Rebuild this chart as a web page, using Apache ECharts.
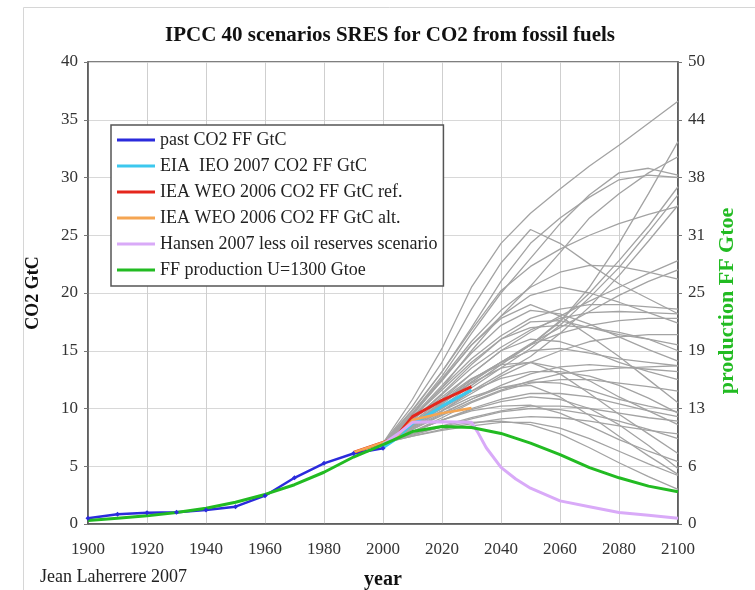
<!DOCTYPE html>
<html>
<head>
<meta charset="utf-8">
<script src="https://cdn.jsdelivr.net/npm/echarts@6/dist/echarts.min.js"></script>
<style>
  html, body { margin: 0; padding: 0; background: #fff; }
  #main { width: 755px; height: 590px; }
</style>
</head>
<body>
<div id="main"></div>
<script>
// years of the SRES scenario points
const sresYears = [2000, 2010, 2020, 2030, 2040, 2050, 2060, 2070, 2080, 2090, 2100];
// 40 SRES scenarios, CO2 from fossil fuels, GtC
const sresScenarios = [
  [7.0, 10.8, 15.2, 20.5, 24.3, 26.9, 29.0, 31.0, 32.8, 34.7, 36.6],
  [7.0, 10.2, 14.0, 18.6, 22.6, 25.5, 24.3, 22.5, 20.8, 19.5, 18.2],
  [7.0, 9.6, 12.8, 16.5, 20.0, 23.0, 26.0, 28.5, 30.4, 30.8, 30.2],
  [7.0, 9.8, 13.2, 17.0, 21.0, 24.3, 26.5, 28.3, 29.8, 30.2, 30.0],
  [7.0, 9.2, 11.8, 15.0, 18.0, 20.6, 23.5, 26.5, 28.6, 30.4, 31.8],
  [7.0, 8.6, 10.5, 12.5, 14.0, 15.5, 17.5, 20.5, 24.3, 28.6, 33.1],
  [7.0, 8.6, 10.2, 12.0, 13.8, 15.5, 17.6, 20.0, 22.8, 25.8, 29.2],
  [7.0, 8.5, 10.0, 11.8, 13.5, 15.2, 17.2, 19.6, 22.2, 25.3, 28.5],
  [7.0, 8.4, 9.8, 11.5, 13.0, 14.5, 16.5, 18.8, 21.5, 24.5, 27.6],
  [7.0, 9.9, 13.2, 16.8, 20.2, 22.3, 23.8, 25.0, 26.0, 26.8, 27.5],
  [7.0, 8.8, 10.8, 13.0, 15.0, 16.6, 18.0, 19.3, 20.5, 21.7, 22.8],
  [7.0, 9.2, 11.8, 14.3, 16.3, 17.8, 18.6, 19.0, 19.0, 18.8, 18.6],
  [7.0, 9.0, 11.2, 13.5, 15.3, 16.8, 17.8, 18.3, 18.4, 18.3, 18.2],
  [7.0, 8.6, 10.4, 12.3, 14.0, 15.5, 16.5, 17.2, 17.6, 17.8, 17.8],
  [7.0, 9.5, 12.4, 15.5, 18.0, 19.8, 20.5, 20.0, 19.2, 18.3, 17.4],
  [7.0, 8.4, 9.8, 11.3, 12.8, 14.0, 15.0, 15.8, 16.2, 16.4, 16.4],
  [7.0, 9.3, 12.0, 14.8, 17.2, 18.5, 18.2, 17.3, 16.2, 15.1, 14.1],
  [7.0, 8.7, 10.6, 12.5, 14.0, 15.0, 15.2, 14.8, 14.3, 14.0, 13.7],
  [7.0, 8.2, 9.5, 10.8, 12.0, 13.0, 13.6, 13.8, 13.6, 13.4, 13.2],
  [7.0, 9.0, 11.0, 13.0, 15.0, 16.0, 15.8, 15.0, 14.0, 13.2, 12.5],
  [7.0, 8.0, 9.2, 10.5, 11.5, 12.2, 12.5, 12.5, 12.2, 11.9, 11.5],
  [7.0, 9.4, 12.5, 15.5, 17.8, 19.0, 18.0, 16.3, 14.5, 12.5, 10.5],
  [7.0, 8.3, 9.6, 10.8, 11.8, 12.3, 12.2, 11.6, 10.8, 10.2, 9.7],
  [7.0, 8.0, 9.0, 10.0, 10.8, 11.3, 11.3, 11.0, 10.4, 9.8, 9.3],
  [7.0, 7.8, 8.5, 9.2, 9.8, 10.2, 10.2, 10.0, 9.6, 9.2, 8.9],
  [7.0, 8.6, 10.4, 12.2, 13.5, 14.0, 13.5, 12.4, 11.0, 9.8, 8.6],
  [7.0, 7.6, 8.2, 8.7, 9.1, 9.3, 9.2, 8.9, 8.5, 8.1, 7.8],
  [7.0, 8.8, 10.8, 12.6, 13.8, 14.0, 13.0, 11.3, 9.5, 7.8, 6.1],
  [7.0, 8.0, 9.0, 9.8, 10.2, 10.3, 9.6, 8.5, 7.3, 6.3, 5.4],
  [7.0, 8.4, 9.8, 11.0, 11.8, 12.0, 11.0, 9.4, 7.6, 5.9, 4.3],
  [7.0, 7.6, 8.1, 8.5, 8.8, 8.8, 8.3, 7.4, 6.3, 5.2, 4.2],
  [7.0, 7.8, 8.4, 8.8, 8.9, 8.6, 7.8, 6.6, 5.3, 4.1, 3.0],
  [7.0, 9.0, 11.3, 13.8, 16.0, 17.5, 17.6, 17.0, 16.4, 16.0, 15.5],
  [7.0, 8.2, 9.4, 10.6, 11.6, 12.4, 13.0, 13.3, 13.5, 13.6, 13.7],
  [7.0, 8.5, 10.0, 11.5, 12.6, 13.2, 13.2, 12.8, 12.0, 10.9, 9.6],
  [7.0, 7.7, 8.4, 9.1, 9.7, 10.0, 9.9, 9.5, 8.9, 8.2, 7.4],
  [7.0, 9.6, 12.6, 15.8, 18.5, 20.5, 21.8, 22.4, 22.3, 21.8, 21.2],
  [7.0, 8.0, 9.0, 9.9, 10.6, 11.0, 10.8, 10.0, 8.6, 6.8, 4.8],
  [7.0, 9.2, 11.6, 14.0, 16.0, 17.0, 17.2, 17.0, 16.6, 16.0, 15.0],
  [7.0, 8.7, 10.5, 12.3, 14.0, 15.6, 17.0, 18.4, 19.8, 21.0, 22.0]
];

// past CO2 FF GtC
const pastYears = [1900, 1910, 1920, 1930, 1940, 1950, 1960, 1970, 1980, 1990, 2000];
const pastCO2 = [0.49, 0.84, 0.98, 1.02, 1.22, 1.5, 2.45, 4.0, 5.25, 6.1, 6.55];

// EIA IEO 2007
const eiaYears = [2000, 2004, 2010, 2015, 2020, 2025, 2030];
const eiaCO2 = [6.6, 7.3, 8.7, 9.4, 10.2, 10.9, 11.6];

// IEA WEO 2006 reference and alternative
const ieaYears = [1990, 2004, 2010, 2015, 2020, 2025, 2030];
const ieaRefCO2 = [6.2, 7.4, 9.3, 10.0, 10.7, 11.3, 11.9];
const ieaAltCO2 = [6.2, 7.4, 9.0, 9.3, 9.6, 9.8, 10.05];

// Hansen 2007 less oil reserves
const hansenYears = [2000, 2005, 2010, 2020, 2030, 2032, 2035, 2040, 2045, 2050, 2060, 2070, 2080, 2090, 2100];
const hansenCO2 = [6.9, 7.8, 8.8, 8.85, 8.8, 8.0, 6.6, 4.9, 3.9, 3.1, 2.0, 1.5, 1.0, 0.75, 0.5];

// FF production U=1300 Gtoe (right axis, Gtoe)
const prodYears = [1900, 1910, 1920, 1930, 1940, 1950, 1960, 1970, 1980, 1990, 2000,
                   2010, 2020, 2030, 2040, 2050, 2060, 2070, 2080, 2090, 2100];
const prodGtoe = [0.38, 0.63, 0.88, 1.25, 1.7, 2.35, 3.2, 4.25, 5.6, 7.25, 8.6,
                  10.0, 10.55, 10.45, 9.8, 8.75, 7.5, 6.1, 5.0, 4.1, 3.5];

const legendNames = ['past CO2 FF GtC', 'EIA  IEO 2007 CO2 FF GtC', 'IEA WEO 2006 CO2 FF GtC ref.',
  'IEA WEO 2006 CO2 FF GtC alt.', 'Hansen 2007 less oil reserves scenario', 'FF production U=1300 Gtoe'];

const zip = (xs, ys) => xs.map((x, i) => [x, ys[i]]);
const serif = 'Liberation Serif';

let series = sresScenarios.map((vals, i) => ({
  name: 'SRES ' + (i + 1),
  type: 'line',
  data: zip(sresYears, vals),
  symbol: 'none',
  silent: true,
  lineStyle: { color: '#a3a3a3', width: 1.3 }
}));

function colored(name, xs, ys, color, width, axis) {
  return {
    name: name,
    type: 'line',
    yAxisIndex: axis || 0,
    data: zip(xs, ys),
    symbol: 'none',
    itemStyle: { color: color },
    lineStyle: { color: color, width: width }
  };
}

let past = colored(legendNames[0], pastYears, pastCO2, '#2b2bdc', 2.5);
past.symbol = 'diamond';
past.symbolSize = 5;
past.showSymbol = true;

series.push(
  past,
  colored(legendNames[1], eiaYears, eiaCO2, '#3cc8ee', 3),
  colored(legendNames[2], ieaYears, ieaRefCO2, '#e5261c', 3),
  colored(legendNames[3], ieaYears, ieaAltCO2, '#f5a552', 2.5),
  colored(legendNames[4], hansenYears, hansenCO2, '#d9aaf8', 3),
  colored(legendNames[5], prodYears, prodGtoe, '#22bb22', 3, 1)
);

let myChart = echarts.init(document.getElementById('main'));
myChart.setOption({
  animation: false,
  backgroundColor: '#fff',
  textStyle: { fontFamily: serif },
  title: {
    text: 'IPCC 40 scenarios SRES for CO2 from fossil fuels',
    left: 385,
    textAlign: 'center',
    top: 20,
    textStyle: { fontFamily: serif, fontSize: 21, fontWeight: 'bold', color: '#111' }
  },
  legend: {
    data: legendNames,
    orient: 'vertical',
    left: 111,
    top: 125,
    icon: 'rect',
    itemWidth: 38,
    itemHeight: 3,
    itemGap: 8,
    padding: [6, 6, 7, 6],
    backgroundColor: '#fff',
    borderColor: '#555',
    borderWidth: 1.5,
    textStyle: { fontFamily: serif, fontSize: 18, color: '#222' }
  },
  grid: {
    left: 88, right: 77, top: 62, bottom: 66,
    outerBoundsMode: 'none',
    show: true, borderColor: '#555', borderWidth: 1.5
  },
  xAxis: {
    type: 'value',
    min: 1900, max: 2100, interval: 20,
    name: 'year',
    nameLocation: 'middle',
    nameGap: 46,
    nameTextStyle: { fontFamily: serif, fontSize: 20, fontWeight: 'bold', color: '#111' },
    axisLine: { show: true, lineStyle: { color: '#555', width: 1.5 } },
    axisTick: { show: false },
    axisLabel: { fontFamily: serif, fontSize: 17, color: '#333', margin: 17,
      formatter: v => String(v) },
    splitLine: { show: true, lineStyle: { color: '#cfcfcf', width: 1 } }
  },
  yAxis: [
    {
      type: 'value',
      min: 0, max: 40, interval: 5,
      name: 'CO2 GtC',
      nameLocation: 'middle',
      nameGap: 46,
      nameTextStyle: { fontFamily: serif, fontSize: 18, fontWeight: 'bold', color: '#111' },
      axisLine: { show: true, lineStyle: { color: '#555', width: 1.5 } },
      axisTick: { show: true, length: 4, lineStyle: { color: '#777' } },
      axisLabel: { fontFamily: serif, fontSize: 17, color: '#333', margin: 10 },
      splitLine: { show: true, lineStyle: { color: '#d8d8d8', width: 1 } }
    },
    {
      type: 'value',
      min: 0, max: 50, interval: 6.25,
      position: 'right',
      name: 'production FF Gtoe',
      nameLocation: 'middle',
      nameGap: 38,
      nameRotate: 90,
      nameTextStyle: { fontFamily: serif, fontSize: 22, fontWeight: 'bold', color: '#22bb22',
        padding: [0, 16, 0, 0] },
      axisLine: { show: true, lineStyle: { color: '#555', width: 1.5 } },
      axisTick: { show: true, length: 4, lineStyle: { color: '#777' } },
      axisLabel: { fontFamily: serif, fontSize: 17, color: '#333', margin: 10,
        formatter: v => Math.round(v) },
      splitLine: { show: false }
    }
  ],
  graphic: [
    {
      type: 'rect', left: 21, top: 5, silent: true,
      shape: { width: 800, height: 700 },
      style: { fill: 'none', stroke: '#d6d6d6', lineWidth: 1 }
    },
    {
      type: 'text', left: 40, top: 568,
      style: { text: 'Jean Laherrere 2007', fontFamily: serif, fontSize: 18, fill: '#222' }
    }
  ],
  series: series
});
</script>
</body>
</html>
